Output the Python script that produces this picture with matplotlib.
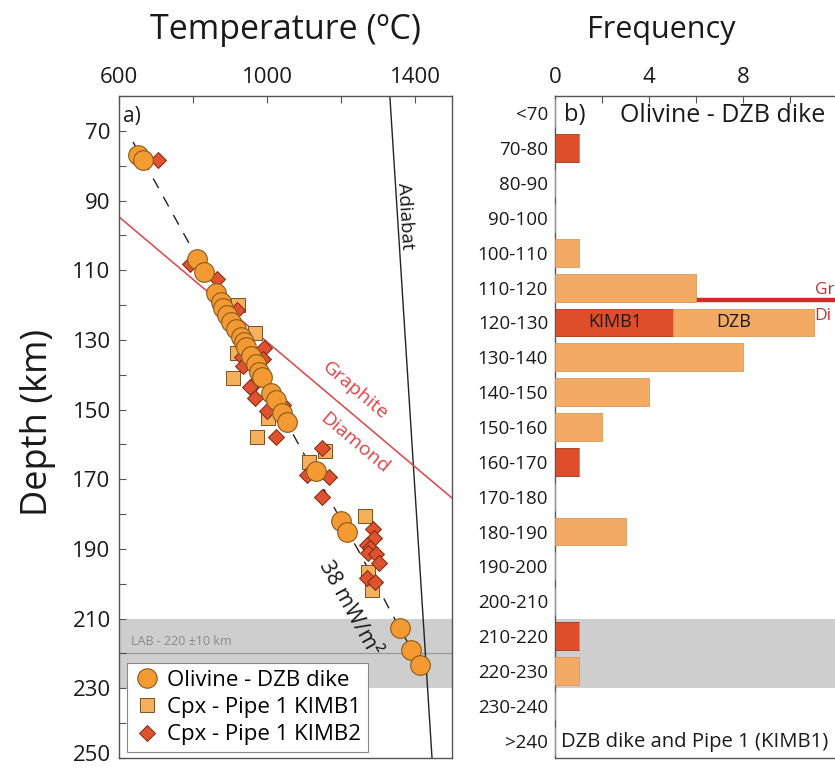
import matplotlib
matplotlib.use("Agg")
import matplotlib.pyplot as plt
from matplotlib.ticker import MultipleLocator, FixedLocator
from matplotlib.lines import Line2D

plt.rcParams['font.family'] = ['Open Sans', 'DejaVu Sans']

# ---- (a) thermobarometry: temperature (°C) vs depth (km) ----
olv_T = [651, 665, 811, 830, 862, 876, 881, 892, 903, 916, 930, 938, 943,
         957, 970, 978, 986, 1011, 1024, 1041, 1054, 1132, 1200, 1216,
         1359, 1389, 1414]
olv_D = [76.9, 78.4, 106.8, 110.5, 116.5, 119.1, 120.8, 122.9, 124.9, 126.9,
         129.2, 130.6, 132.0, 134.6, 136.9, 139.2, 140.7, 145.2, 147.3, 151.0,
         153.6, 167.6, 182.0, 185.1, 212.7, 219.0, 223.3]

k1_T = [922, 968, 919, 908, 1003, 973, 1157, 1114, 1265, 1273, 1284]
k1_D = [120.0, 128.0, 133.8, 140.9, 152.4, 157.9, 161.9, 165.0, 180.6, 196.6, 201.8]

k2_T = [705, 792, 865, 919, 992, 989, 932, 935, 968, 954, 968, 1043, 1000,
        1024, 1149, 1108, 1168, 1149, 1286, 1289, 1270, 1278, 1273, 1295,
        1303, 1270, 1292]
k2_D = [78.4, 108.2, 112.5, 121.4, 132.3, 135.4, 134.9, 137.5, 142.4, 143.5,
        146.7, 148.7, 150.4, 157.9, 161.0, 168.8, 169.4, 175.1, 184.3, 186.9,
        188.9, 189.7, 191.2, 191.5, 194.0, 198.3, 199.5]

# 38 mW/m2 conductive geotherm
geo_T = [638, 792, 1089, 1170, 1251, 1332, 1425]
geo_D = [73.2, 102.8, 160.7, 176.0, 191.2, 207.5, 225.5]

# mantle adiabat and graphite–diamond transition
adi_T = [1332, 1446]
adi_D = [60, 250]
gd_T = [600, 1500]
gd_D = [94.7, 175.4]

lab_depth = 220
lab_range = (210, 230)

depth_ticks = [70, 90, 110, 130, 150, 170, 190, 210, 230, 250]

# ---- (b) depth histogram ----
bin_labels = ['<70', '70-80', '80-90', '90-100', '100-110', '110-120',
              '120-130', '130-140', '140-150', '150-160', '160-170',
              '170-180', '180-190', '190-200', '200-210', '210-220',
              '220-230', '230-240', '>240']
bin_centers = [65, 75, 85, 95, 105, 115, 125, 135, 145, 155, 165, 175, 185,
               195, 205, 215, 225, 235, 245]
count_kimb1 = [0, 1, 0, 0, 0, 0, 5, 0, 0, 0, 1, 0, 0, 0, 0, 1, 0, 0, 0]
count_dzb = [0, 0, 0, 0, 1, 6, 6, 8, 4, 2, 0, 0, 3, 0, 0, 0, 1, 0, 0]
gd_depth_b = 118.5

C_OLV = '#F39A33'
C_K1 = '#F5B05E'
C_K2 = '#DE5230'
C_BAR_DZB = '#F2AA64'
C_BAR_K1 = '#DF4E2A'
C_GD = '#DD4448'
C_BAND = '#CECECE'
C_TXT = '#1a1a1a'

fig = plt.figure(figsize=(8.35, 7.68), dpi=100)

# ================= panel a =================
ax = fig.add_axes([119/835, 1-758/768, 333/835, 662/768])
ax.set_xlim(600, 1500)
ax.set_ylim(250, 60)

ax.axhspan(*lab_range, color=C_BAND, lw=0, zorder=0)
ax.axhline(lab_depth, color='#9a9a9a', lw=0.9, zorder=1)
ax.text(632, 218.4, 'LAB - 220 \u00b110 km', fontsize=9, color='#8a8a8a',
        va='bottom', ha='left', zorder=2)

ax.plot(adi_T, adi_D, color='#222222', lw=1.0, zorder=2)
ax.plot(gd_T, gd_D, color=C_GD, lw=1.1, zorder=2)
ax.plot(geo_T, geo_D, color='#222222', lw=1.0, dashes=(8, 7), zorder=2)

ax.scatter(k1_T, k1_D, marker='s', s=100, c=C_K1, edgecolors='#7a5020',
           linewidths=0.7, zorder=3)
ax.scatter(k2_T, k2_D, marker='D', s=66, c=C_K2, edgecolors='#7a2a12',
           linewidths=0.7, zorder=4)
ax.scatter(olv_T, olv_D, marker='o', s=200, c=C_OLV, edgecolors='#8a5a1c',
           linewidths=0.8, zorder=5)

ax.text(1373, 94.4, 'Adiabat', rotation=-86.4, fontsize=13.5, color=C_TXT,
        ha='center', va='center', rotation_mode='anchor')
ax.text(1237, 144.5, 'Graphite', rotation=-40, fontsize=14, color=C_GD,
        ha='center', va='center', rotation_mode='anchor')
ax.text(1237, 159.5, 'Diamond', rotation=-40, fontsize=14, color=C_GD,
        ha='center', va='center', rotation_mode='anchor')
ax.text(1222, 207.0, '38 mW/m\u00b2', rotation=-61, fontsize=15.5, color=C_TXT,
        ha='center', va='center', rotation_mode='anchor')
ax.text(612, 66, 'a)', fontsize=15, color=C_TXT, ha='left', va='center')

ax.xaxis.set_ticks_position('top')
ax.xaxis.set_label_position('top')
ax.set_xticks([600, 1000, 1400])
ax.xaxis.set_minor_locator(FixedLocator([800, 1200]))
ax.set_yticks(depth_ticks)
# the deepest label is drawn separately, lifted to sit inside the canvas
ax.set_yticklabels([str(d) for d in depth_ticks[:-1]] + [''])
ax.yaxis.set_minor_locator(MultipleLocator(10))
ax.tick_params(axis='both', which='both', direction='in', length=5,
               width=0.8, color='#555555', labelsize=16, labelcolor=C_TXT)
ax.tick_params(axis='x', which='both', top=True, bottom=False, pad=6)
ax.tick_params(axis='y', which='both', left=True, right=False, pad=6)
ax.annotate(str(depth_ticks[-1]), xy=(0, depth_ticks[-1]),
            xycoords=('axes fraction', 'data'), xytext=(-6, -2.2),
            textcoords='offset points', ha='right', va='baseline',
            fontsize=16, color=C_TXT, annotation_clip=False)
for sp in ax.spines.values():
    sp.set_color('#555555')
    sp.set_linewidth(1.0)

handles = [
    Line2D([], [], ls='none', marker='o', ms=14, mfc=C_OLV, mec='#8a5a1c', mew=0.8),
    Line2D([], [], ls='none', marker='s', ms=10, mfc=C_K1, mec='#7a5020', mew=0.7),
    Line2D([], [], ls='none', marker='D', ms=8, mfc=C_K2, mec='#7a2a12', mew=0.7),
]
leg = ax.legend(handles, ['Olivine - DZB dike', 'Cpx - Pipe 1 KIMB1',
                          'Cpx - Pipe 1 KIMB2'],
                loc='lower left', bbox_to_anchor=(0.024, 0.009),
                fontsize=16, frameon=True, fancybox=False, framealpha=1,
                edgecolor='#888888', handletextpad=0.3, borderpad=0.3,
                labelspacing=0.28, handlelength=1.2, borderaxespad=0)
leg.get_frame().set_linewidth(0.8)
leg.set_zorder(6)

fig.text(286/835, 1-30/768, 'Temperature (\u00baC)', fontsize=24.5,
         ha='center', va='center', color=C_TXT)
fig.text(38/835, 1-422/768, 'Depth (km)', fontsize=26, rotation=90,
         ha='center', va='center', color=C_TXT)

# ================= panel b =================
bx = fig.add_axes([555/835, 1-758/768, 14*23.5/835, 662/768])
bx.set_xlim(0, 14)
bx.set_ylim(250, 60)

bx.axhspan(*lab_range, color=C_BAND, lw=0, zorder=0)
bx.axhline(gd_depth_b, color='#D42A2A', lw=3.2, zorder=1)

bx.barh(bin_centers, count_kimb1, height=8, color=C_BAR_K1,
        edgecolor='#9a3a1c', linewidth=0.6, zorder=3)
bx.barh(bin_centers, count_dzb, left=count_kimb1, height=8, color=C_BAR_DZB,
        edgecolor='#d89a5a', linewidth=0.6, zorder=3)

bx.text(2.55, 125, 'KIMB1', fontsize=13, color=C_TXT, ha='center',
        va='center', zorder=4)
bx.text(7.6, 125, 'DZB', fontsize=13, color=C_TXT, ha='center',
        va='center', zorder=4)
# graphite/diamond labels run off the right edge of the figure
bx.text(11.05, 115.6, 'Gr', fontsize=12.5, color='#C8303A', ha='left',
        va='center', zorder=4)
bx.text(11.05, 123.2, 'Di', fontsize=12.5, color='#C8303A', ha='left',
        va='center', zorder=4)
bx.text(0.4, 65.5, 'b)', fontsize=17, color=C_TXT, ha='left', va='center')
bx.text(2.75, 65.5, 'Olivine - DZB dike', fontsize=18, color=C_TXT,
        ha='left', va='center')
bx.text(0.25, 245.5, 'DZB dike and Pipe 1 (KIMB1)', fontsize=14.6,
        color=C_TXT, ha='left', va='center')

bx.xaxis.set_ticks_position('top')
bx.set_xticks([0, 4, 8])
bx.xaxis.set_minor_locator(MultipleLocator(2))
bx.set_yticks(bin_centers)
bx.set_yticklabels(bin_labels)
bx.tick_params(axis='x', which='both', direction='in', length=5, width=0.8,
               color='#555555', labelsize=16, labelcolor=C_TXT, pad=6,
               top=True, bottom=False)
bx.tick_params(axis='y', which='both', length=0, labelsize=13.5,
               labelcolor=C_TXT, pad=5)
for sp in bx.spines.values():
    sp.set_color('#555555')
    sp.set_linewidth(1.0)

fig.text(661/835, 1-30/768, 'Frequency', fontsize=22, ha='center',
         va='center', color=C_TXT)

fig.savefig('out.png', dpi=100)
